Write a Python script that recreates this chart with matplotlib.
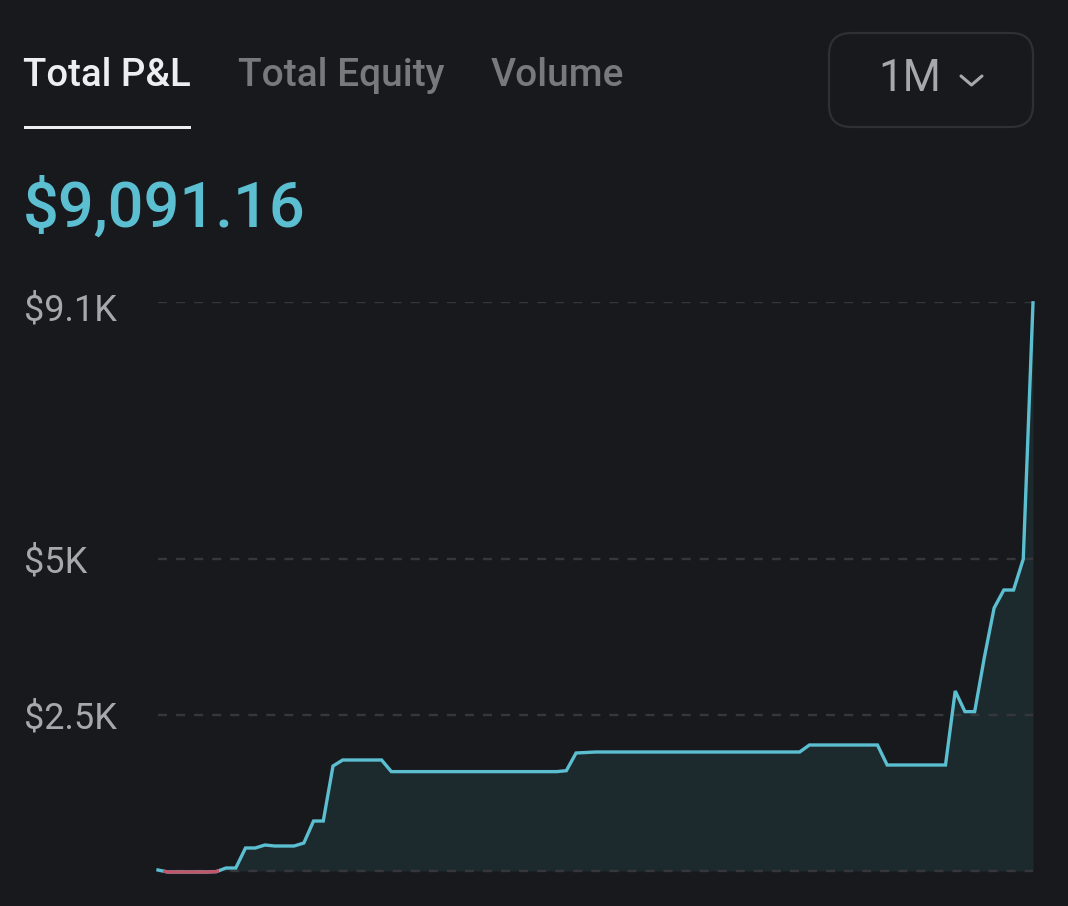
import matplotlib
matplotlib.use("Agg")
import matplotlib.pyplot as plt
import numpy as np
from matplotlib.patches import FancyBboxPatch, Rectangle
from matplotlib.transforms import ScaledTranslation

plt.rcParams['font.family'] = ['Roboto', 'DejaVu Sans']
plt.rcParams['lines.scale_dashes'] = False

# ---- data ----
tabs = ["Total P&L", "Total Equity", "Volume"]
period = "1M"
headline = "$9,091.16"
tick_values = [0, 2500, 5000, 9100]
tick_labels = ["", "$2.5K", "$5K", "$9.1K"]
pnl = [16, -16, -16, -16, -16, -16, -10, 48, 48, 368,
       368, 416, 400, 400, 400, 448, 800, 800, 1680, 1776,
       1776, 1776, 1776, 1776, 1590, 1590, 1590, 1590, 1590, 1590,
       1590, 1590, 1590, 1590, 1590, 1590, 1590, 1590, 1590, 1590,
       1590, 1590, 1605, 1888, 1896, 1904, 1904, 1904, 1904, 1904,
       1904, 1904, 1904, 1904, 1904, 1904, 1904, 1904, 1904, 1904,
       1904, 1904, 1904, 1904, 1904, 1904, 1904, 2016, 2016, 2016,
       2016, 2016, 2016, 2016, 2016, 1696, 1696, 1696, 1696, 1696,
       1696, 1696, 2880, 2550, 2550, 3420, 4208, 4496, 4496, 4992,
       9091]

BG = "#18191d"
TEAL = "#5bbfd1"
RED = "#c4566a"
FILL = "#1c2a2e"
GRID = "#35373b"
LABEL = "#a6a8ab"
W, H = 1068, 906

fig = plt.figure(figsize=(W / 100, H / 100), dpi=100, facecolor=BG)

# chart axes: x px 158..1033, y px 302..880
x0, x1, ytop, ybot = 158, 1033, 302, 880
ax = fig.add_axes([x0 / W, 1 - ybot / H, (x1 - x0) / W, (ybot - ytop) / H], facecolor=BG)
x = np.arange(len(pnl))
y = np.array(pnl, dtype=float)
ax.set_xlim(0, len(pnl) - 1)
ax.set_ylim(-144, 9104)

ax.fill_between(x, 0, y, color=FILL, lw=0, zorder=1)
ax.set_yticks(tick_values)
ax.set_yticklabels(tick_labels)
ax.set_xticks([])
for s in ax.spines.values():
    s.set_visible(False)
ax.grid(axis='y', color=GRID, lw=1.7, linestyle=(0, (6.5, 6.5)), zorder=2)
ax.set_axisbelow(False)
ax.tick_params(axis='y', length=0, pad=134 * 0.72, labelsize=26, labelcolor=LABEL)
offsets = [0, 0, 0, -4]
for lab, off in zip(ax.get_yticklabels(), offsets):
    lab.set_ha('left')
    lab.set_transform(lab.get_transform() + ScaledTranslation(0, off / 100, fig.dpi_scale_trans))

ax.plot(x, y, color=TEAL, lw=2.4, solid_joinstyle='miter', zorder=4, clip_on=False)
down, = ax.plot(x, y, color=RED, lw=2.4, solid_joinstyle='miter', zorder=5)
down.set_clip_path(Rectangle((0.5, -2000), 5.8, 4000, transform=ax.transData))

# overlay in pixel coordinates for the header chrome
ov = fig.add_axes([0, 0, 1, 1], facecolor='none')
ov.set_xlim(0, W)
ov.set_ylim(H, 0)
ov.axis('off')

tab_x = [23, 238, 491]
tab_col = ["#eceef0", "#77797d", "#77797d"]
tab_size = [27.6, 28, 28]
for t, tx, c, fs in zip(tabs, tab_x, tab_col, tab_size):
    ov.text(tx, 75, t, color=c, fontsize=fs, fontweight='medium', ha='left', va='center')
ov.add_patch(Rectangle((23.5, 125.5), 167, 3, color="#eceef0", lw=0))
ov.text(23, 208, headline, color=TEAL, fontsize=45.5, fontweight='medium', ha='left', va='center')

ov.add_patch(FancyBboxPatch((851, 55), 160, 50, boxstyle="round,pad=22,rounding_size=22",
                            fc='none', ec="#2e3035", lw=1.6))
ov.text(878, 79, period, color=LABEL, fontsize=31.5, ha='left', va='center')
ov.plot([961, 971.5, 982], [76, 85, 76], color=LABEL, lw=2.2, solid_capstyle='round', solid_joinstyle='round')

fig.savefig("out.png", dpi=100, facecolor=BG)
